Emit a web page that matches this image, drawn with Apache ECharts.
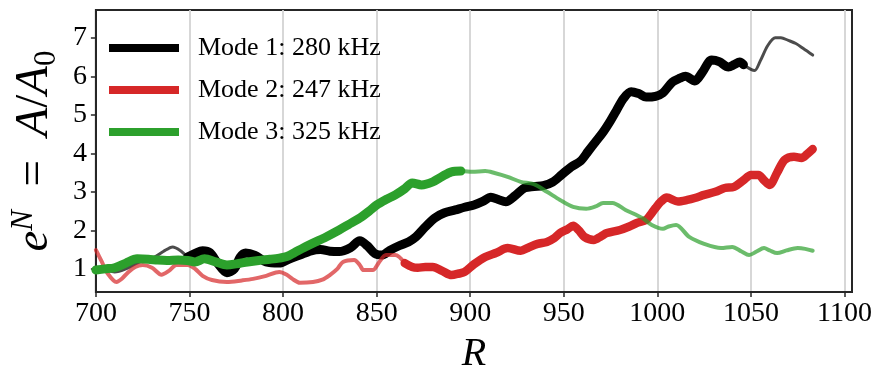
<!DOCTYPE html>
<html>
<head>
<meta charset="utf-8">
<script src="https://cdn.jsdelivr.net/npm/echarts@6/dist/echarts.min.js"></script>
<style>
  html, body { margin: 0; padding: 0; background: #fff; }
  #main { width: 883px; height: 384px; }
</style>
</head>
<body>
<div id="main"></div>
<script>
// legend names
var modeNames = ['Mode 1: 280 kHz', 'Mode 2: 247 kHz', 'Mode 3: 325 kHz'];
var xTicks = [700, 750, 800, 850, 900, 950, 1000, 1050, 1100];
var yTicks = [1, 2, 3, 4, 5, 6, 7];

// mode 1 (black): faint start, thick middle, faint end  [R, e^N]
var mode1Faint1 = [[700,1.05],[705,0.98],[710,0.92],[716,1.0],[722,1.15],[731,1.3],[736,1.45],[741,1.57],[745,1.48],[749,1.31]];
var mode1Main = [[749,1.31],[753,1.4],[757,1.47],[761,1.42],[765,1.15],[770,0.9],[774,1.0],[777,1.3],[780,1.41],[785,1.35],
  [791,1.18],[798,1.15],[803,1.25],[809,1.36],[815,1.47],[820,1.5],[825,1.46],[830,1.45],[836,1.55],[841,1.73],[845,1.6],
  [849,1.4],[853,1.36],[857,1.48],[862,1.6],[867,1.7],[871,1.83],[876,2.09],[881,2.32],[886,2.45],[892,2.53],[897,2.6],
  [902,2.66],[907,2.76],[911,2.86],[915,2.8],[919,2.74],[924,2.9],[929,3.1],[934,3.14],[939,3.16],[944,3.25],[949,3.45],
  [954,3.65],[959,3.8],[963,4.05],[967,4.3],[971,4.55],[975,4.85],[978,5.1],[982,5.43],[986,5.6],[990,5.55],[994,5.46],
  [999,5.48],[1003,5.57],[1008,5.85],[1012,5.95],[1015,6.0],[1020,5.88],[1024,6.1],[1029,6.42],[1033,6.38],[1038,6.24],
  [1041,6.3],[1044,6.37],[1046,6.3]];
var mode1Faint2 = [[1046,6.3],[1050,6.18],[1052,6.15],[1055,6.4],[1059,6.8],[1063,7.0],[1066,7.0],[1070,6.93],[1074,6.85],[1078,6.72],[1083,6.55]];

// mode 2 (red): faint start, thick rest
var mode2Faint = [[700,1.49],[703,1.2],[706,0.9],[711,0.66],[714,0.75],[717,0.9],[721,1.05],[725,1.1],[730,1.03],[735,0.85],
  [739,0.95],[743,1.1],[749,1.1],[753,1.0],[757,0.82],[762,0.71],[770,0.66],[778,0.7],[784,0.74],[791,0.82],[798,0.92],
  [802,0.85],[805,0.74],[809,0.64],[816,0.66],[821,0.72],[825,0.84],[829,1.0],[832,1.18],[838,1.23],[841,1.1],[843,0.97],
  [848,0.97],[851,1.15],[855,1.36],[860,1.36],[865,1.15]];
var mode2Main = [[865,1.15],[869,1.05],[872,1.03],[876,1.05],[880,1.05],[885,0.95],[890,0.84],[894,0.88],[897,0.92],[902,1.12],
  [908,1.31],[914,1.42],[920,1.54],[927,1.47],[931,1.55],[936,1.65],[941,1.7],[945,1.8],[948,1.93],[952,2.03],[955,2.12],
  [958,2.0],[961,1.83],[966,1.75],[970,1.85],[973,1.93],[980,2.01],[985,2.1],[989,2.19],[994,2.27],[997,2.45],[999,2.58],
  [1002,2.75],[1005,2.85],[1011,2.75],[1016,2.79],[1020,2.84],[1025,2.92],[1031,3.0],[1036,3.1],[1041,3.13],[1046,3.3],
  [1050,3.44],[1054,3.44],[1057,3.3],[1060,3.18],[1064,3.5],[1068,3.83],[1073,3.91],[1077,3.88],[1080,3.98],[1083,4.11]];

// mode 3 (green): thick start, faint rest
var mode3Main = [[700,0.97],[705,1.0],[710,1.03],[716,1.15],[722,1.26],[728,1.25],[733,1.23],[738,1.22],[744,1.23],[749,1.22],
  [753,1.18],[758,1.26],[764,1.18],[770,1.1],[775,1.13],[781,1.18],[787,1.22],[793,1.25],[798,1.28],[802,1.32],[806,1.42],
  [811,1.55],[816,1.67],[823,1.83],[830,2.01],[835,2.15],[841,2.32],[846,2.5],[850,2.66],[855,2.8],[860,2.92],[865,3.08],
  [869,3.23],[874,3.18],[880,3.26],[885,3.4],[890,3.52],[895,3.54]];
var mode3Faint = [[895,3.54],[901,3.52],[908,3.54],[913,3.49],[920,3.39],[927,3.26],[934,3.2],[941,3.0],[948,2.79],[955,2.61],
  [962,2.56],[967,2.62],[971,2.71],[976,2.71],[983,2.53],[992,2.32],[997,2.14],[1003,2.04],[1006,2.1],[1010,2.14],[1017,1.83],
  [1025,1.65],[1034,1.54],[1040,1.57],[1045,1.45],[1049,1.36],[1053,1.45],[1057,1.54],[1060,1.48],[1064,1.41],[1069,1.48],
  [1075,1.54],[1079,1.52],[1083,1.47]];

var serif = "'Liberation Serif', 'DejaVu Serif', serif";
var axisCol = '#262626';

function line(name, data, color, width, opacity, z) {
  return {
    name: name, type: 'line', data: data, smooth: 0.3,
    showSymbol: false, symbol: 'none', z: z,
    lineStyle: { color: color, width: width, opacity: opacity, cap: 'round', join: 'round' },
    itemStyle: { color: color },
    emphasis: { disabled: true }, animation: false
  };
}

var myChart = echarts.init(document.getElementById('main'));
var option = {
  animation: false,
  grid: { left: 86, right: 31, top: 10, bottom: 92, show: true, borderColor: axisCol, borderWidth: 2, backgroundColor: 'transparent' },
  legend: {
    data: modeNames, orient: 'vertical', left: 109, top: 33, padding: 0,
    itemWidth: 70, itemHeight: 8, itemGap: 12, icon: 'rect',
    textStyle: { fontFamily: serif, fontSize: 26, color: '#000', lineHeight: 30, padding: [0, 0, 0, 14] }
  },
  xAxis: {
    type: 'value', min: 700, max: 1104, interval: 50,
    name: 'R', nameLocation: 'middle', nameGap: 42,
    nameTextStyle: { fontFamily: serif, fontStyle: 'italic', fontSize: 40, color: '#000' },
    axisLine: { show: true, lineStyle: { color: axisCol, width: 2 } },
    axisTick: { show: true, length: 5, lineStyle: { color: axisCol, width: 1.5 }, customValues: xTicks },
    axisLabel: { fontFamily: serif, fontSize: 28, color: '#000', margin: 8, customValues: xTicks,
      formatter: function (v) { return String(v); } },
    splitLine: { show: true, lineStyle: { color: '#d3d3d3', width: 1.8 } }
  },
  yAxis: {
    type: 'value', min: 0.4, max: 7.72,
    name: '{i|e}{sup|N}{n|  =  }{i|A}{n|/}{i|A}{sub|0}',
    nameLocation: 'middle', nameGap: 30, nameRotate: 90,
    nameTextStyle: {
      color: '#000',
      rich: {
        i: { fontFamily: serif, fontStyle: 'italic', fontSize: 47, lineHeight: 54, color: '#000' },
        n: { fontFamily: serif, fontSize: 47, lineHeight: 54, color: '#000' },
        sup: { fontFamily: serif, fontStyle: 'italic', fontSize: 31, lineHeight: 30, verticalAlign: 'top', color: '#000' },
        sub: { fontFamily: serif, fontSize: 31, lineHeight: 38, verticalAlign: 'bottom', color: '#000' }
      }
    },
    axisLine: { show: true, lineStyle: { color: axisCol, width: 2 } },
    axisTick: { show: true, length: 5, lineStyle: { color: axisCol, width: 1.5 }, customValues: yTicks },
    axisLabel: { fontFamily: serif, fontSize: 28, color: '#000', margin: 9, customValues: yTicks },
    splitLine: { show: false }
  },
  series: [
    line('m1a', mode1Faint1, '#000000', 3, 0.7, 2),
    line(modeNames[0], mode1Main, '#000000', 9, 1, 3),
    line('m1b', mode1Faint2, '#000000', 3, 0.7, 2),
    line('m2a', mode2Faint, '#d62728', 4, 0.7, 4),
    line(modeNames[1], mode2Main, '#d62728', 8.5, 1, 5),
    line(modeNames[2], mode3Main, '#2ca02c', 9, 1, 7),
    line('m3b', mode3Faint, '#2ca02c', 4, 0.7, 6)
  ]
};
myChart.setOption(option);
</script>
</body>
</html>
